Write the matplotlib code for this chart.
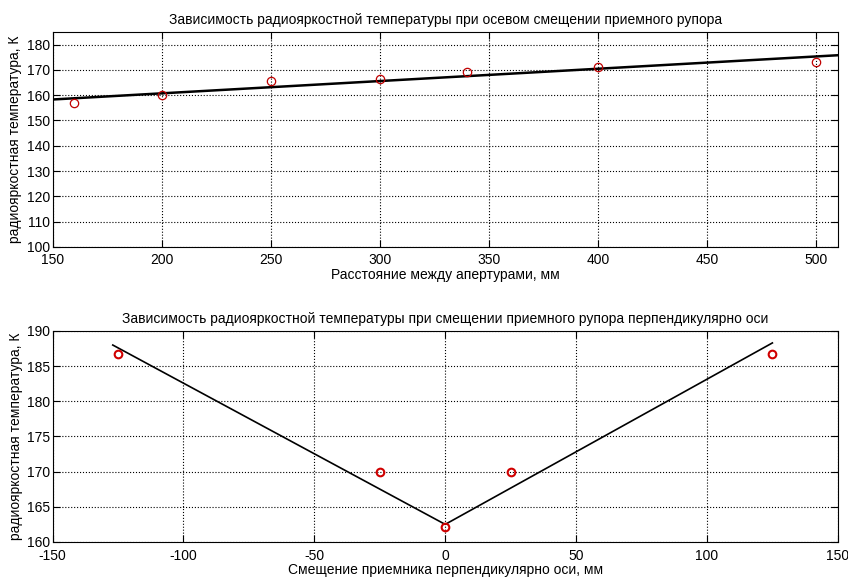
import matplotlib.pyplot as plt

plt.rcParams['font.family'] = ['Liberation Sans', 'DejaVu Sans']
plt.rcParams['font.size'] = 10
plt.rcParams['axes.unicode_minus'] = False

# axial offset
dist_mm = [160, 200, 250, 300, 340, 400, 500]
temp_axial = [157.0, 160.2, 165.6, 166.5, 169.1, 171.0, 173.3]
fit_axial_x = [150, 510]
fit_axial_y = [158.3, 175.8]

# perpendicular offset
shift_mm = [-125, -25, 0, 25, 125]
temp_perp = [186.7, 170.0, 162.2, 170.0, 186.7]
fit_perp_x = [-127, 0, 125]
fit_perp_y = [188.0, 162.5, 188.3]

fig = plt.figure(figsize=(8.48, 5.77), dpi=100)

ax1 = fig.add_axes([0.062, 0.572, 0.926, 0.3726])
ax1.plot(fit_axial_x, fit_axial_y, color='black', lw=1.8)
ax1.plot(dist_mm, temp_axial, 'o', mfc='none', mec='#c00000', ms=6, mew=0.9)
ax1.set_xlim(150, 510)
ax1.set_ylim(100, 185)
ax1.set_xticks(range(150, 501, 50))
ax1.set_yticks(range(100, 181, 10))
ax1.set_title('Зависимость радиояркостной температуры при осевом смещении приемного рупора', fontsize=10)
ax1.set_xlabel('Расстояние между апертурами, мм', labelpad=1)
ax1.set_ylabel('радиояркостная температура, К', labelpad=3)

ax2 = fig.add_axes([0.062, 0.0607, 0.926, 0.3657])
ax2.plot(fit_perp_x, fit_perp_y, color='black', lw=1.2)
ax2.plot(shift_mm, temp_perp, 'o', mfc='none', mec='#d00000', ms=5.5, mew=1.5)
ax2.set_xlim(-150, 150)
ax2.set_ylim(160, 190)
ax2.set_xticks(range(-150, 151, 50))
ax2.set_yticks(range(160, 191, 5))
ax2.set_title('Зависимость радиояркостной температуры при смещении приемного рупора перпендикулярно оси', fontsize=10)
ax2.set_xlabel('Смещение приемника перпендикулярно оси, мм', labelpad=0)
ax2.set_ylabel('радиояркостная температура, К', labelpad=3)

for ax in (ax1, ax2):
    ax.grid(True, color='black', linestyle=':', linewidth=0.8)
    ax.tick_params(direction='in', top=True, right=True, length=5)
    ax.tick_params(axis='x', pad=4)
    ax.tick_params(axis='y', pad=2)
    for s in ax.spines.values():
        s.set_linewidth(0.8)
ax2.tick_params(axis='x', pad=5)

fig.savefig('out.png', dpi=100)
